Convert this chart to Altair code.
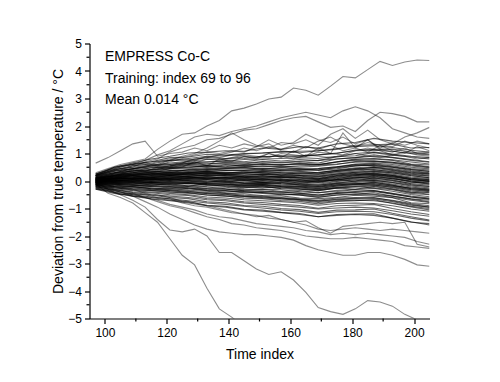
import altair as alt
import pandas as pd

GRID4 = list(range(97, 206, 4))   # 28 points, outlying traces
GRID6 = list(range(97, 206, 6))   # 19 points, traces inside the main bundle

X_TICKS = [100, 120, 140, 160, 180, 200]
X_MINOR = [110, 130, 150, 170, 190]
Y_TICKS = [-5, -4, -3, -2, -1, 0, 1, 2, 3, 4, 5]
Y_MINOR = [-4.5, -3.5, -2.5, -1.5, -0.5, 0.5, 1.5, 2.5, 3.5, 4.5]

ANNOT = ["EMPRESS Co-C", "Training: index 69 to 96", "Mean 0.014 \u00b0C"]

OUTLIERS = {
    "T1": [0.3, 0.45, 0.6, 0.7, 0.8, 1.15, 1.45, 1.7, 1.75, 2.0, 2.2, 2.55, 2.65, 2.8, 2.98, 3.05, 3.38, 3.3, 3.12, 3.45, 3.8, 3.75, 4.05, 4.35, 4.2, 4.33, 4.4, 4.38],
    "T2": [0.65, 0.85, 1.1, 1.35, 1.45, 0.9, 1.0, 1.05, 1.2, 1.1, 1.3, 1.2, 1.35, 1.25, 1.5, 1.3, 1.4, 1.7, 1.5, 1.4, 1.6, 1.35, 1.5, 1.2, 1.4, 1.3, 1.45, 1.35],
    "T3": [0.2, 0.35, 0.5, 0.6, 0.75, 0.95, 1.1, 1.35, 1.6, 1.7, 1.65, 1.8, 1.9, 2.0, 2.15, 2.3, 2.4, 2.5, 2.4, 2.3, 2.55, 2.7, 2.55, 2.3, 1.9, 1.75, 1.6, 1.55],
    "T4": [0.15, 0.3, 0.45, 0.5, 0.7, 0.8, 1.05, 1.2, 1.3, 1.5, 1.55, 1.7, 1.85, 1.9, 2.05, 2.2, 2.3, 2.35, 2.15, 1.95, 2.0, 1.8, 2.2, 2.5, 2.45, 2.35, 2.15, 2.15],
    "M1": [0.1, 0.2, 0.35, 0.45, 0.5, 0.6, 0.75, 0.9, 1.0, 1.2, 1.45, 1.75, 1.5, 1.3, 1.2, 1.4, 1.35, 1.5, 1.3, 1.7, 1.9, 1.55, 1.85, 1.5, 1.35, 1.6, 1.75, 1.95],
    "M2": [0.05, 0.15, 0.25, 0.3, 0.4, 0.45, 0.55, 0.65, 0.8, 0.85, 0.95, 1.05, 1.2, 1.1, 1.25, 1.15, 1.3, 1.2, 1.45, 1.6, 1.35, 1.25, 1.4, 1.3, 1.25, 1.45, 1.3, 1.2],
    "M3": [0.2, 0.3, 0.4, 0.55, 0.6, 0.7, 0.8, 0.85, 0.95, 1.05, 1.0, 1.1, 1.05, 1.25, 1.35, 1.1, 1.05, 1.25, 1.15, 1.3, 1.1, 1.2, 1.5, 1.15, 1.05, 1.2, 1.0, 1.05],
    "M4": [0.0, 0.1, 0.2, 0.25, 0.3, 0.35, 0.45, 0.5, 0.7, 0.55, 0.8, 0.7, 0.9, 0.8, 1.0, 0.85, 1.1, 0.9, 1.2, 1.0, 1.75, 1.2, 1.05, 1.3, 1.1, 1.0, 1.25, 1.1],
    "M5": [0.1, 0.15, 0.25, 0.4, 0.35, 0.5, 0.55, 0.6, 0.65, 0.8, 0.75, 0.85, 0.95, 0.9, 0.85, 1.0, 0.95, 0.9, 1.05, 1.0, 0.95, 1.1, 1.2, 1.1, 0.95, 1.05, 0.95, 0.9],
    "M6": [0.25, 0.4, 0.55, 0.6, 0.65, 0.55, 0.7, 0.8, 0.75, 0.9, 0.85, 0.95, 0.9, 0.85, 1.0, 0.9, 0.8, 0.95, 0.9, 0.85, 0.9, 1.0, 0.9, 0.85, 0.95, 0.9, 0.8, 0.85],
    "B1": [-0.1, -0.45, -0.6, -0.8, -1.15, -1.5, -2.1, -2.7, -3.05, -3.9, -4.65, -4.95, -5.3, -5.6],
    "B2": [-0.05, -0.3, -0.5, -0.7, -0.95, -1.4, -1.78, -1.85, -1.75, -2.0, -2.6, -2.6, -2.9, -3.2, -3.4, -3.3, -3.6, -4.05, -4.6, -4.75, -4.85, -4.65, -4.35, -4.4, -4.55, -4.85, -5.05, -5.3],
    "B3": [-0.1, -0.25, -0.4, -0.55, -0.75, -0.95, -1.2, -1.4, -1.6, -1.75, -1.85, -1.9, -1.95, -1.95, -2.0, -2.05, -2.15, -2.35, -2.5, -2.6, -2.7, -2.7, -2.6, -2.6, -2.7, -2.85, -3.05, -3.1],
    "B4": [-0.15, -0.3, -0.4, -0.5, -0.6, -0.75, -0.9, -1.0, -1.15, -1.3, -1.4, -1.55, -1.6, -1.7, -1.75, -1.8, -1.9, -2.0, -2.05, -2.1, -2.1, -2.05, -2.1, -2.15, -2.2, -2.35, -2.4, -2.45],
    "B5": [-0.3, -0.35, -0.5, -0.45, -0.6, -0.7, -0.85, -0.95, -1.05, -1.2, -1.3, -1.35, -1.45, -1.55, -1.6, -1.65, -1.7, -1.8, -1.85, -1.95, -1.9, -1.95, -1.9, -1.95, -2.0, -2.05, -2.2, -2.3],
    "B6": [-0.05, -0.15, -0.25, -0.3, -0.45, -0.5, -0.6, -0.75, -0.8, -0.9, -1.0, -1.1, -1.2, -1.3, -1.25, -1.4, -1.5, -1.45, -1.7, -1.9, -1.65, -1.6, -1.55, -1.5, -1.55, -1.5, -2.3, -2.4],
    "B7": [-0.2, -0.3, -0.35, -0.45, -0.5, -0.6, -0.65, -0.8, -0.9, -0.95, -1.05, -1.15, -1.2, -1.25, -1.35, -1.4, -1.5, -1.6, -1.75, -1.8, -1.75, -1.7, -1.75, -1.8, -1.75, -1.8, -1.85, -1.9],
}

BUNDLE = [
    [0.02, 0.06, 0.1, 0.08, 0.14, 0.1, 0.12, 0.06, 0.07, 0.03, 0.05, -0.02, 0.0, 0.03, 0.14, 0.12, 0.1, -0.03, -0.12],
    [0.0, 0.07, 0.1, 0.13, 0.15, 0.16, 0.12, 0.12, 0.08, 0.1, 0.06, 0.04, 0.02, 0.1, 0.15, 0.2, 0.12, 0.0, -0.05],
    [0.0, 0.03, 0.05, 0.08, 0.09, 0.08, 0.07, 0.05, 0.01, 0.02, -0.01, -0.04, -0.07, 0.0, 0.08, 0.1, 0.04, -0.1, -0.15],
    [0.03, 0.09, 0.11, 0.15, 0.18, 0.17, 0.17, 0.13, 0.13, 0.11, 0.11, 0.07, 0.06, 0.13, 0.19, 0.25, 0.16, 0.05, 0.0],
    [-0.01, 0.01, 0.05, 0.05, 0.08, 0.06, 0.05, 0.01, -0.01, -0.03, -0.05, -0.07, -0.12, -0.02, 0.05, 0.06, 0.0, -0.13, -0.2],
    [0.04, 0.09, 0.15, 0.16, 0.21, 0.19, 0.2, 0.17, 0.16, 0.15, 0.15, 0.12, 0.08, 0.18, 0.23, 0.29, 0.2, 0.1, 0.05],
    [-0.03, 0.01, 0.01, 0.04, 0.04, 0.05, 0.0, -0.01, -0.06, -0.05, -0.09, -0.1, -0.16, -0.06, -0.01, 0.03, -0.06, -0.18, -0.25],
    [0.05, 0.12, 0.15, 0.2, 0.23, 0.22, 0.23, 0.2, 0.19, 0.18, 0.18, 0.14, 0.14, 0.22, 0.27, 0.33, 0.25, 0.14, 0.09],
    [-0.04, 0.0, -0.01, 0.02, 0.01, 0.02, -0.03, -0.04, -0.09, -0.08, -0.12, -0.14, -0.2, -0.1, -0.05, -0.01, -0.11, -0.22, -0.29],
    [0.06, 0.12, 0.19, 0.22, 0.24, 0.27, 0.24, 0.25, 0.21, 0.24, 0.2, 0.2, 0.16, 0.26, 0.32, 0.37, 0.29, 0.19, 0.12],
    [-0.05, -0.02, -0.03, 0.0, -0.01, -0.01, -0.06, -0.07, -0.13, -0.12, -0.16, -0.18, -0.24, -0.14, -0.1, -0.05, -0.15, -0.27, -0.34],
    [0.07, 0.15, 0.2, 0.23, 0.28, 0.28, 0.29, 0.26, 0.26, 0.25, 0.26, 0.22, 0.21, 0.3, 0.36, 0.42, 0.33, 0.23, 0.17],
    [-0.06, -0.03, -0.04, -0.03, -0.04, -0.04, -0.09, -0.1, -0.16, -0.15, -0.2, -0.22, -0.27, -0.18, -0.14, -0.1, -0.19, -0.31, -0.39],
    [0.08, 0.17, 0.22, 0.25, 0.31, 0.3, 0.32, 0.29, 0.29, 0.29, 0.29, 0.25, 0.25, 0.34, 0.4, 0.46, 0.38, 0.28, 0.21],
    [-0.07, -0.05, -0.06, -0.05, -0.07, -0.06, -0.12, -0.13, -0.19, -0.19, -0.23, -0.25, -0.31, -0.22, -0.18, -0.14, -0.24, -0.36, -0.43],
    [0.09, 0.18, 0.24, 0.27, 0.33, 0.33, 0.35, 0.32, 0.32, 0.32, 0.33, 0.29, 0.29, 0.38, 0.44, 0.5, 0.42, 0.32, 0.26],
    [-0.08, -0.06, -0.08, -0.07, -0.09, -0.09, -0.15, -0.16, -0.22, -0.22, -0.27, -0.29, -0.35, -0.26, -0.22, -0.18, -0.28, -0.4, -0.48],
    [0.1, 0.19, 0.28, 0.32, 0.38, 0.39, 0.42, 0.38, 0.39, 0.41, 0.38, 0.37, 0.38, 0.44, 0.55, 0.57, 0.5, 0.42, 0.35],
    [-0.1, -0.09, -0.12, -0.12, -0.14, -0.15, -0.21, -0.23, -0.29, -0.3, -0.32, -0.39, -0.43, -0.34, -0.3, -0.27, -0.37, -0.49, -0.57],
    [0.12, 0.22, 0.32, 0.36, 0.44, 0.44, 0.48, 0.45, 0.46, 0.46, 0.47, 0.44, 0.45, 0.52, 0.62, 0.65, 0.6, 0.5, 0.44],
    [-0.12, -0.12, -0.16, -0.16, -0.19, -0.2, -0.27, -0.29, -0.36, -0.36, -0.41, -0.44, -0.52, -0.42, -0.38, -0.35, -0.46, -0.58, -0.66],
    [0.13, 0.25, 0.37, 0.4, 0.49, 0.48, 0.55, 0.5, 0.53, 0.52, 0.55, 0.5, 0.54, 0.6, 0.71, 0.73, 0.68, 0.6, 0.52],
    [-0.14, -0.15, -0.21, -0.2, -0.25, -0.25, -0.34, -0.35, -0.43, -0.42, -0.49, -0.51, -0.6, -0.5, -0.47, -0.43, -0.55, -0.66, -0.76],
    [0.15, 0.3, 0.36, 0.48, 0.5, 0.58, 0.56, 0.6, 0.57, 0.63, 0.6, 0.62, 0.58, 0.7, 0.8, 0.82, 0.77, 0.69, 0.62],
    [-0.15, -0.2, -0.21, -0.28, -0.27, -0.34, -0.37, -0.44, -0.47, -0.53, -0.54, -0.62, -0.64, -0.6, -0.52, -0.55, -0.61, -0.79, -0.83],
    [0.18, 0.3, 0.44, 0.52, 0.55, 0.64, 0.62, 0.68, 0.66, 0.7, 0.66, 0.7, 0.65, 0.8, 0.85, 0.95, 0.86, 0.78, 0.7],
    [-0.17, -0.2, -0.28, -0.29, -0.35, -0.37, -0.46, -0.48, -0.56, -0.57, -0.64, -0.67, -0.75, -0.66, -0.63, -0.6, -0.72, -0.85, -0.95],
    [0.2, 0.38, 0.44, 0.58, 0.6, 0.7, 0.68, 0.74, 0.7, 0.78, 0.73, 0.78, 0.74, 0.88, 0.92, 1.03, 0.94, 0.87, 0.8],
    [-0.2, -0.24, -0.33, -0.34, -0.4, -0.42, -0.52, -0.54, -0.63, -0.64, -0.71, -0.74, -0.83, -0.74, -0.72, -0.68, -0.82, -0.94, -1.05],
    [0.22, 0.4, 0.56, 0.62, 0.75, 0.76, 0.85, 0.82, 0.87, 0.88, 0.92, 0.88, 0.95, 1.0, 1.13, 1.15, 1.16, 1.05, 0.98],
    [-0.22, -0.3, -0.4, -0.43, -0.5, -0.53, -0.64, -0.67, -0.76, -0.78, -0.85, -0.89, -0.99, -0.9, -0.88, -0.85, -1.0, -1.12, -1.22],
    [0.25, 0.45, 0.63, 0.7, 0.85, 0.87, 0.97, 0.94, 1.0, 1.02, 1.07, 1.03, 1.1, 1.15, 1.3, 1.32, 1.34, 1.2, 1.22],
    [-0.25, -0.36, -0.47, -0.52, -0.6, -0.64, -0.76, -0.79, -0.89, -0.92, -1.0, -1.04, -1.14, -1.06, -1.05, -1.02, -1.17, -1.3, -1.42],
    [-0.28, -0.42, -0.55, -0.6, -0.7, -0.75, -0.88, -0.92, -1.03, -1.06, -1.14, -1.18, -1.3, -1.22, -1.2, -1.19, -1.35, -1.48, -1.6],
    [0.2, 0.5, 0.66, 0.8, 0.9, 1.02, 1.05, 1.1, 1.08, 1.2, 1.15, 1.25, 1.2, 1.35, 1.4, 1.55, 1.45, 1.4, 1.35],
]

BUNDLE2 = [
    [0.05, 0.1, 0.18, 0.12, 0.2, 0.25, 0.18, 0.22, 0.15, 0.2, 0.12, 0.18, 0.1, 0.2, 0.3, 0.25, 0.22, 0.1, 0.05],
    [-0.02, 0.05, 0.0, 0.08, 0.02, 0.1, 0.05, -0.02, 0.04, -0.05, 0.02, -0.08, -0.02, 0.05, 0.0, 0.12, 0.02, -0.08, -0.02],
    [0.1, 0.2, 0.3, 0.35, 0.3, 0.42, 0.38, 0.45, 0.5, 0.42, 0.5, 0.45, 0.4, 0.5, 0.6, 0.55, 0.5, 0.38, 0.3],
    [-0.08, -0.1, -0.05, -0.15, -0.1, -0.18, -0.12, -0.2, -0.25, -0.18, -0.28, -0.3, -0.35, -0.25, -0.3, -0.2, -0.3, -0.42, -0.4],
    [0.0, 0.15, 0.22, 0.28, 0.2, 0.3, 0.35, 0.28, 0.35, 0.3, 0.22, 0.3, 0.25, 0.35, 0.42, 0.5, 0.4, 0.3, 0.25],
    [0.05, 0.0, 0.05, -0.02, 0.05, 0.0, -0.05, 0.02, -0.08, -0.1, -0.05, -0.15, -0.2, -0.1, -0.12, -0.05, -0.15, -0.28, -0.32],
    [0.12, 0.25, 0.3, 0.4, 0.45, 0.5, 0.55, 0.52, 0.6, 0.62, 0.58, 0.65, 0.6, 0.7, 0.75, 0.72, 0.68, 0.58, 0.5],
    [-0.1, -0.18, -0.22, -0.25, -0.3, -0.28, -0.35, -0.4, -0.38, -0.45, -0.5, -0.48, -0.55, -0.45, -0.42, -0.48, -0.55, -0.65, -0.7],
    [0.02, 0.08, 0.12, 0.05, 0.1, 0.15, 0.08, 0.12, 0.02, 0.08, 0.0, 0.05, -0.05, 0.05, 0.1, 0.18, 0.08, 0.0, -0.08],
    [0.08, 0.12, 0.2, 0.25, 0.28, 0.22, 0.3, 0.25, 0.28, 0.35, 0.3, 0.28, 0.32, 0.38, 0.45, 0.4, 0.35, 0.25, 0.18],
    [-0.05, -0.08, -0.12, -0.1, -0.15, -0.2, -0.22, -0.28, -0.32, -0.3, -0.38, -0.35, -0.42, -0.38, -0.32, -0.35, -0.45, -0.55, -0.62],
    [0.15, 0.3, 0.4, 0.48, 0.52, 0.6, 0.62, 0.65, 0.62, 0.7, 0.68, 0.72, 0.75, 0.8, 0.85, 0.9, 0.85, 0.75, 0.68],
    [-0.12, -0.15, -0.2, -0.28, -0.32, -0.38, -0.42, -0.45, -0.52, -0.55, -0.6, -0.65, -0.7, -0.62, -0.6, -0.62, -0.7, -0.82, -0.9],
    [0.0, 0.05, 0.1, 0.15, 0.12, 0.18, 0.22, 0.2, 0.15, 0.12, 0.15, 0.1, 0.05, 0.15, 0.22, 0.28, 0.2, 0.05, -0.02],
    [0.05, 0.1, 0.08, 0.12, 0.18, 0.15, 0.1, 0.15, 0.1, 0.05, 0.08, 0.0, 0.02, 0.08, 0.2, 0.22, 0.15, 0.05, 0.0],
    [-0.03, -0.05, -0.02, -0.08, -0.05, -0.1, -0.08, -0.12, -0.18, -0.15, -0.2, -0.22, -0.28, -0.18, -0.12, -0.15, -0.22, -0.32, -0.35],
    [0.1, 0.22, 0.25, 0.32, 0.38, 0.35, 0.42, 0.4, 0.38, 0.45, 0.42, 0.4, 0.45, 0.52, 0.58, 0.62, 0.55, 0.45, 0.4],
    [-0.15, -0.25, -0.3, -0.35, -0.4, -0.45, -0.5, -0.55, -0.58, -0.62, -0.65, -0.7, -0.78, -0.72, -0.7, -0.72, -0.8, -0.92, -1.0],
    [0.18, 0.35, 0.45, 0.55, 0.6, 0.65, 0.7, 0.72, 0.78, 0.8, 0.82, 0.85, 0.82, 0.9, 1.0, 1.05, 0.98, 0.9, 0.85],
    [-0.05, 0.0, 0.02, 0.05, 0.08, 0.02, 0.0, -0.05, -0.08, -0.05, -0.1, -0.12, -0.15, -0.08, 0.0, 0.02, -0.05, -0.15, -0.2],
    [0.03, 0.1, 0.15, 0.18, 0.22, 0.25, 0.28, 0.25, 0.22, 0.25, 0.22, 0.2, 0.18, 0.25, 0.32, 0.35, 0.3, 0.2, 0.12],
    [-0.07, -0.12, -0.15, -0.18, -0.2, -0.25, -0.28, -0.3, -0.35, -0.38, -0.4, -0.45, -0.5, -0.45, -0.4, -0.38, -0.48, -0.58, -0.65],
    [0.06, 0.14, 0.2, 0.25, 0.3, 0.32, 0.35, 0.38, 0.4, 0.38, 0.4, 0.42, 0.4, 0.48, 0.55, 0.6, 0.52, 0.42, 0.35],
    [-0.02, -0.02, 0.0, -0.05, -0.02, -0.06, -0.1, -0.12, -0.15, -0.12, -0.18, -0.2, -0.22, -0.15, -0.08, -0.1, -0.18, -0.25, -0.3],
    [0.0, 0.08, 0.12, 0.2, 0.25, 0.3, 0.28, 0.32, 0.3, 0.35, 0.38, 0.35, 0.3, 0.4, 0.48, 0.52, 0.45, 0.35, 0.28],
    [-0.1, -0.12, -0.15, -0.2, -0.22, -0.28, -0.3, -0.35, -0.4, -0.42, -0.45, -0.52, -0.58, -0.52, -0.48, -0.5, -0.6, -0.7, -0.78],
    [0.08, 0.18, 0.25, 0.3, 0.35, 0.4, 0.45, 0.48, 0.5, 0.55, 0.52, 0.55, 0.58, 0.62, 0.68, 0.7, 0.65, 0.55, 0.48],
    [-0.18, -0.28, -0.35, -0.4, -0.45, -0.5, -0.58, -0.62, -0.68, -0.72, -0.75, -0.8, -0.88, -0.82, -0.8, -0.82, -0.9, -1.02, -1.1],
    [0.2, 0.42, 0.5, 0.58, 0.65, 0.72, 0.78, 0.8, 0.82, 0.88, 0.9, 0.92, 0.95, 1.02, 1.1, 1.12, 1.08, 1.0, 0.95],
    [-0.22, -0.32, -0.42, -0.5, -0.55, -0.6, -0.68, -0.72, -0.8, -0.85, -0.9, -0.95, -1.02, -0.98, -0.95, -0.98, -1.08, -1.2, -1.28],
    [0.04, 0.02, 0.06, 0.1, 0.05, 0.12, 0.15, 0.1, 0.12, 0.18, 0.15, 0.12, 0.08, 0.18, 0.25, 0.22, 0.18, 0.08, 0.02],
    [-0.04, -0.06, -0.1, -0.05, -0.12, -0.08, -0.15, -0.18, -0.22, -0.25, -0.22, -0.28, -0.32, -0.25, -0.2, -0.25, -0.32, -0.45, -0.5],
    [0.12, 0.28, 0.35, 0.42, 0.48, 0.55, 0.5, 0.58, 0.55, 0.6, 0.58, 0.62, 0.6, 0.68, 0.78, 0.8, 0.75, 0.62, 0.58],
    [-0.13, -0.22, -0.25, -0.32, -0.35, -0.42, -0.45, -0.5, -0.55, -0.6, -0.62, -0.68, -0.72, -0.68, -0.65, -0.65, -0.75, -0.88, -0.95],
    [0.0, 0.04, 0.07, 0.1, 0.1, 0.12, 0.08, 0.1, 0.05, 0.06, 0.02, 0.0, -0.03, 0.06, 0.12, 0.16, 0.08, -0.04, -0.1],
    [0.25, 0.5, 0.6, 0.7, 0.75, 0.82, 0.9, 0.92, 0.98, 1.02, 1.05, 1.08, 1.1, 1.18, 1.25, 1.28, 1.22, 1.12, 1.05],
    [-0.25, -0.4, -0.5, -0.58, -0.65, -0.72, -0.8, -0.85, -0.92, -0.98, -1.05, -1.1, -1.18, -1.12, -1.1, -1.12, -1.22, -1.35, -1.45],
    [-0.3, -0.45, -0.55, -0.65, -0.72, -0.8, -0.9, -0.95, -1.05, -1.1, -1.15, -1.22, -1.3, -1.25, -1.22, -1.25, -1.35, -1.5, -1.55],
]

out_rows = []
for name, vals in OUTLIERS.items():
    for x, y in zip(GRID4, vals):
        out_rows.append({"id": name, "x": x, "y": y})
df_out = pd.DataFrame(out_rows)

bundle_rows = []
for tag, group in (("a", BUNDLE), ("b", BUNDLE2)):
    for i, vals in enumerate(group):
        for x, y in zip(GRID6, vals):
            bundle_rows.append({"id": f"{tag}{i}", "x": x, "y": y})
df_bundle = pd.DataFrame(bundle_rows)

FONT = "Liberation Sans"
W, H = 340, 275

xscale = alt.Scale(domain=[95, 205], nice=False, zero=False)
yscale = alt.Scale(domain=[-5, 5], nice=False, zero=False)

xaxis = alt.Axis(values=X_TICKS, title="Time index", tickSize=5, labelPadding=4,
                 labelFontSize=12, titleFontSize=14, labelFlush=False,
                 titleBaseline="alphabetic", titleY=40)
yaxis = alt.Axis(values=Y_TICKS, title="Deviation from true temperature / \u00b0C",
                 tickSize=5, labelPadding=3, labelFontSize=12, titleFontSize=14,
                 labelFlush=False, titleBaseline="alphabetic", titleX=-27.5)

out_lines = alt.Chart(df_out).mark_line(clip=True, color="black", strokeWidth=1.1, opacity=0.45).encode(
    x=alt.X("x:Q", scale=xscale, axis=xaxis),
    y=alt.Y("y:Q", scale=yscale, axis=yaxis),
    detail="id:N",
)
bundle_lines = alt.Chart(df_bundle).mark_line(clip=True, color="black", strokeWidth=1.1, opacity=0.6).encode(
    x=alt.X("x:Q", scale=xscale, axis=xaxis),
    y=alt.Y("y:Q", scale=yscale, axis=yaxis),
    detail="id:N",
)

xminor = alt.Chart(pd.DataFrame({"x": X_MINOR})).mark_rule(color="black", strokeWidth=1.2).encode(
    x=alt.X("x:Q", scale=xscale, axis=xaxis),
    y=alt.value(H),
    y2=alt.value(H + 3),
)
yminor = alt.Chart(pd.DataFrame({"y": Y_MINOR})).mark_rule(color="black", strokeWidth=1.2).encode(
    y=alt.Y("y:Q", scale=yscale, axis=yaxis),
    x=alt.value(-3),
    x2=alt.value(0),
)

texts = []
for i, s in enumerate(ANNOT):
    texts.append(
        alt.Chart(pd.DataFrame({"t": [s]})).mark_text(
            align="left", baseline="alphabetic", font=FONT, fontSize=14, color="black"
        ).encode(text="t:N", x=alt.value(15.5), y=alt.value(17.5 + 21.5 * i))
    )

chart = alt.layer(out_lines, bundle_lines, xminor, yminor, *texts).properties(
    width=W, height=H,
    autosize=alt.AutoSizeParams(type="none"),
    padding={"left": 81.5, "top": 35.5, "right": 60, "bottom": 60},
).configure_axis(
    grid=False, domainColor="black", tickColor="black", labelColor="black",
    titleColor="black", labelFont=FONT, titleFont=FONT, titleFontWeight="normal",
    domainWidth=1.2, tickWidth=1.2,
).configure_view(stroke=None)

chart.save("out.html", embed_options={"renderer": "svg", "actions": False})
